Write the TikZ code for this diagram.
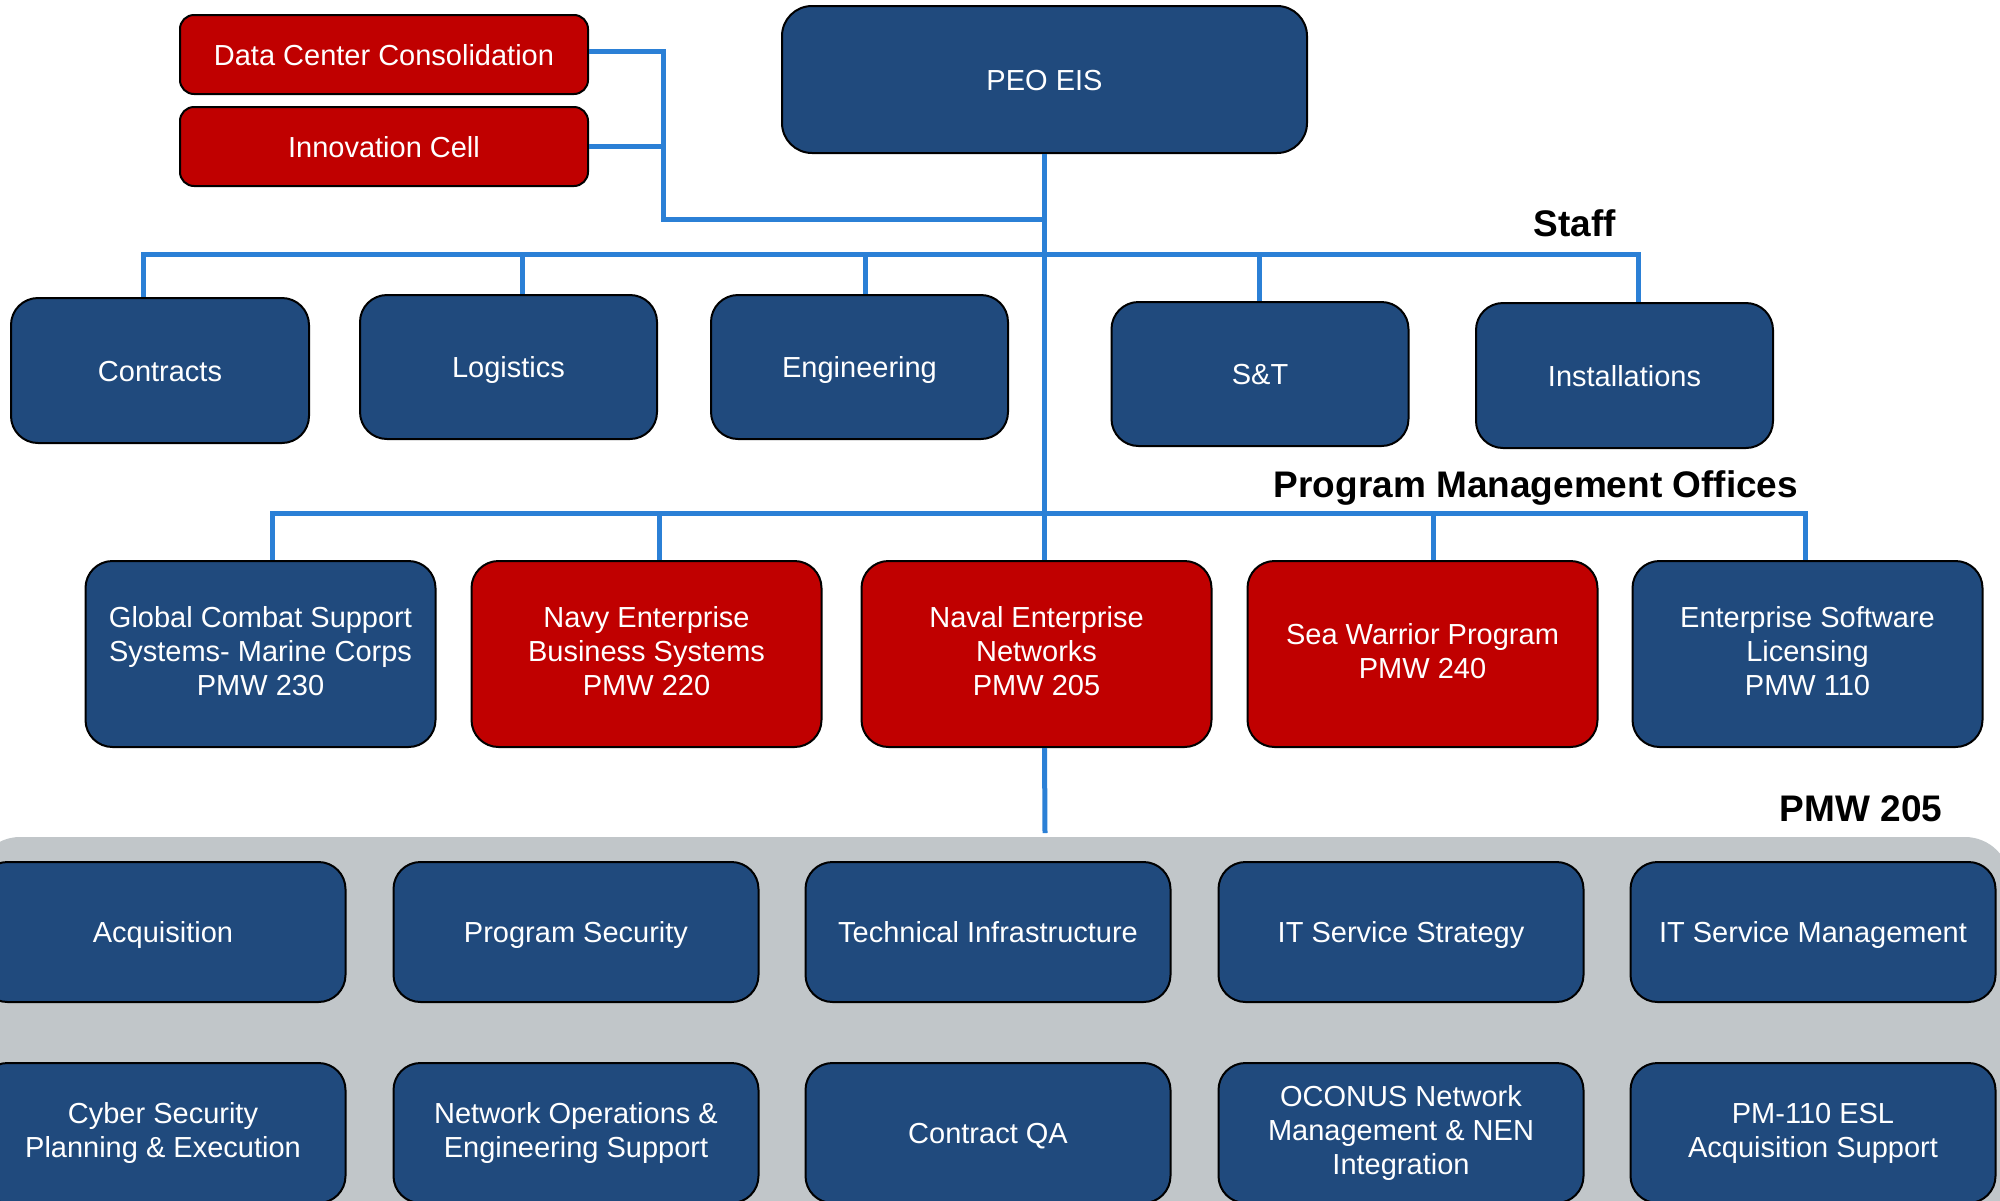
\documentclass[tikz,border=0pt]{standalone}
\usepackage{fontspec}
\setmainfont{Liberation Sans}
\usetikzlibrary{positioning}
\definecolor{navybox}{RGB}{32,74,125}
\definecolor{redbox}{RGB}{192,0,0}
\definecolor{linkblue}{RGB}{43,128,214}
\definecolor{panelgrey}{RGB}{193,198,201}
\begin{document}
\begin{tikzpicture}[x=1pt, y=-1pt, node distance=35pt,
    main/.style = {draw=black, line width=2pt, rounded corners=27pt, text=white, align=center, inner sep=0pt, font=\fontsize{29}{34}\selectfont, execute at begin node={\rule[-6pt]{0pt}{33pt}}},
    navy/.style = {main, fill=navybox},
    crimson/.style = {main, fill=redbox},
    multi/.style = {execute at begin node={\rule[-6pt]{0pt}{40pt}}},
    cell/.style = {rounded corners=14pt, minimum width=408pt, minimum height=79pt},
    staff/.style = {minimum width=297pt, minimum height=145pt},
    pmo/.style = {multi, minimum width=350pt, minimum height=186pt},
    pmw/.style = {minimum width=365pt, minimum height=140pt},
    link/.style = {draw=linkblue, line width=5pt},
    heading/.style = {font=\bfseries\fontsize{37}{44}\selectfont, inner sep=0pt}]
    \clip (0,0) rectangle (2000,1200);
    % grey panel behind PMW 205
    \fill[panelgrey, rounded corners=45pt] (-25,837) rectangle (2010,1320);

    \node[navy, minimum width=525pt, minimum height=147pt, rounded corners=30pt] (peo) at (1044.5,79.5) {PEO EIS};
    \node[crimson, cell] (dcc) at (384,54.5) {Data Center Consolidation};
    \node[crimson, cell] (ic) [below=11pt of dcc] {Innovation Cell};

    % staff
    \node[navy, staff, minimum width=298pt] (contracts) at (160,370.5) {Contracts};
    \node[navy, staff, minimum height=144pt] (logistics) at (508.5,367) {Logistics};
    \node[navy, staff, minimum height=144pt] (engineering) at (859.5,367) {Engineering};
    \node[navy, staff, minimum height=144pt] (st) at (1260,374) {S\&T};
    \node[navy, staff] (installations) at (1624.5,375.5) {Installations};
    \node[heading] (stafflbl) at (1575,223) {Staff};

    % program management offices
    \node[navy, pmo] (gcss) at (260.5,654) {Global Combat Support\\Systems- Marine Corps\\PMW 230};
    \node[crimson, pmo] (nebs) [right=34pt of gcss] {Navy Enterprise\\Business Systems\\PMW 220};
    \node[crimson, pmo] (nen) [right=38pt of nebs] {Naval Enterprise\\Networks\\PMW 205};
    \node[crimson, pmo] (sw) [right=34pt of nen] {Sea Warrior Program\\PMW 240};
    \node[navy, pmo] (esl) [right=33pt of sw] {Enterprise Software\\Licensing\\PMW 110};
    \node[heading] (pmolbl) at (1536,488) {Program Management Offices};

    % PMW 205
    \node[heading] (pmwlbl) at (1861,809) {PMW 205};
    \node[navy, pmw] (acq) at (163,932) {Acquisition};
    \node[navy, pmw] (psec) [right=46pt of acq] {Program Security};
    \node[navy, pmw] (tech) [right=45pt of psec] {Technical Infrastructure};
    \node[navy, pmw] (itss) [right=46pt of tech] {IT Service Strategy};
    \node[navy, pmw] (itsm) [right=45pt of itss] {IT Service Management};
    \node[navy, pmw, multi] (cyber) [below=59pt of acq] {Cyber Security\\Planning \& Execution};
    \node[navy, pmw, multi] (netops) [below=59pt of psec] {Network Operations \&\\Engineering Support};
    \node[navy, pmw] (cqa) [below=59pt of tech] {Contract QA};
    \node[navy, pmw, multi] (oconus) [below=59pt of itss] {OCONUS Network\\Management \& NEN\\Integration};
    \node[navy, pmw, multi] (pm110) [below=59pt of itsm] {PM-110 ESL\\Acquisition Support};

    \coordinate (elbow) at (663,219);
    \coordinate (s1) at (143,254);
    \coordinate (s2) at (522,254);
    \coordinate (s3) at (865,254);
    \coordinate (s4) at (1259,254);
    \coordinate (s5) at (1638,254);
    \coordinate (p1) at (272,513);
    \coordinate (p2) at (659,513);
    \coordinate (p4) at (1433,513);
    \coordinate (p5) at (1805,513);
    \coordinate (pmwtop) at (1045,833);

    \draw[link] ([yshift=3pt]dcc.east) -| (elbow) -- (elbow -| peo.south);
    \draw[link] (ic.east) -- (ic.east -| elbow);
    \draw[link] (peo.south) -- (peo.south |- nen.north);
    \draw[link] (peo.south |- nen.south) -- (pmwtop);
    \draw[link] (s1 |- contracts.north) -- (s1) -- (s5) -- (s5 |- installations.north);
    \foreach \c/\n in {s2/logistics, s3/engineering, s4/st}
        \draw[link] (\c) -- (\c |- \n.north);
    \draw[link] (p1 |- gcss.north) -- (p1) -- (p5) -- (p5 |- esl.north);
    \foreach \c/\n in {p2/nebs, p4/sw}
        \draw[link] (\c) -- (\c |- \n.north);
\end{tikzpicture}
\end{document}
